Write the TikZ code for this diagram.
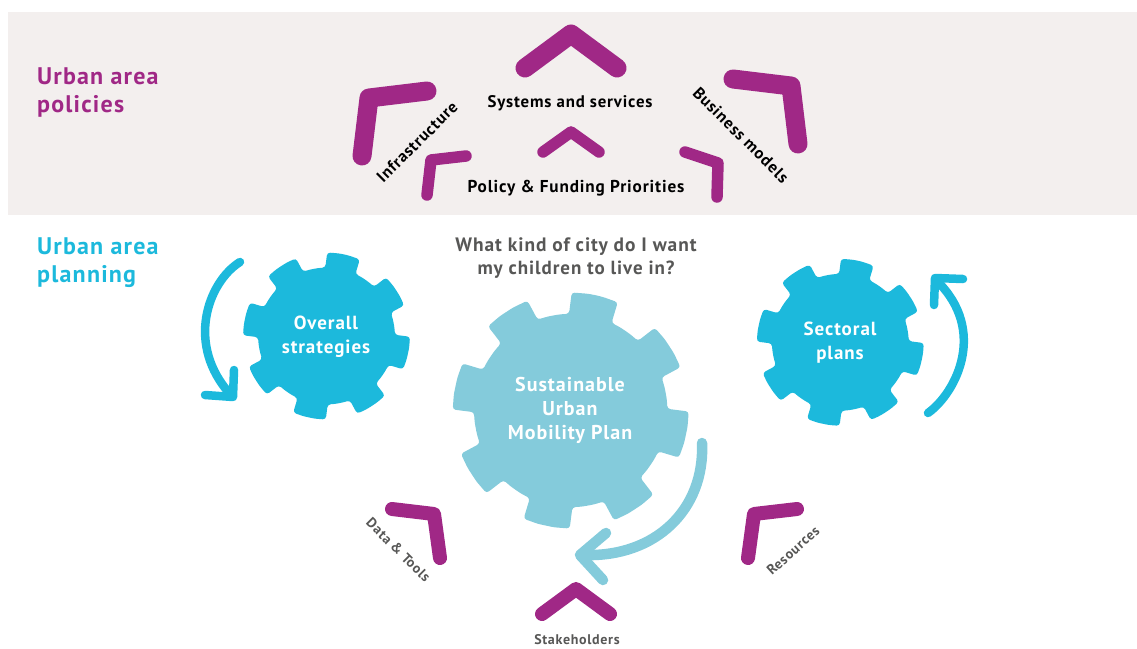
\documentclass[tikz,border=0pt]{standalone}
\usepackage{fontspec}
\setmainfont{PT Sans}[LetterSpace=5]
\definecolor{panelgrey}{HTML}{F3EFEE}
\definecolor{plum}{HTML}{A02886}
\definecolor{cyanblue}{HTML}{1CB9DC}
\definecolor{paleblue}{HTML}{84CBDB}
\definecolor{textgrey}{HTML}{575756}
\tikzset{
  chevron/.style={draw=plum,line cap=round,line join=round,line width=#1},
  swing/.style={draw=#1,line cap=round,line join=round},
  head/.style={font=\fontsize{24}{28}\selectfont\bfseries,align=left,anchor=north west,inner sep=0pt},
  label/.style={font=\fontsize{#1}{#1}\selectfont\bfseries,inner sep=0pt},
  gearlabel/.style={font=\fontsize{#1}{24}\selectfont\bfseries,text=white,align=center,inner sep=0pt},
}
% x y radius colour
\newcommand{\cog}[4]{%
  \fill[#4,rounded corners=3pt,shift={(#1,#2)}] (-78:#3)
    \foreach \t in {-78,-33,...,237} {
      -- ({\t+4}:#3) -- ({\t+11.5}:#3)
      -- ({\t+13}:{.82*#3}) -- ({\t+19}:{.82*#3}) -- ({\t+26}:{.82*#3}) -- ({\t+32}:{.82*#3})
      -- ({\t+33.5}:#3) -- ({\t+41}:#3)
    } -- cycle;
}
\begin{document}
\begin{tikzpicture}[x=1pt,y=-1pt]
\useasboundingbox (0,0) rectangle (1137,648);
\fill[panelgrey] (8,12) rectangle (1137,215);

% side headings
\draw (37,67) node[head,text=plum] (pol) {Urban area\\policies};
\draw (37,237) node[head,text=cyanblue] (pla) {Urban area\\planning};

% policy level
\draw[chevron=19] (525,68) -- (571,34) -- (617,68);
\draw[chevron=19] (362,156) -- (369,98) -- (427,91);
\draw[chevron=19] (733,79) -- (791,86) -- (798,144);
\draw[chevron=11.5] (543,152) -- (571,132) -- (599,152);
\draw[chevron=11.5] (427,195) -- (431,160) -- (466,156);
\draw[chevron=11.5] (685,152) -- (718,163) -- (717,197);
\draw (570,103) node[label=16.8] (sys) {Systems and services};
\draw (576,188) node[label=17.2] (pfp) {Policy \& Funding Priorities};
\draw (417,142) node[label=16.4,rotate=45] (inf) {Infrastructure};
\draw (741,135) node[label=16.5,rotate=-45] (bus) {Business models};

% planning level
\draw (576,246.5) node[label=19.4,text=textgrey] (qa) {What kind of city do I want};
\draw (576,269.5) node[label=19,text=textgrey] (qb) {my children to live in?};

\cog{326.5}{336}{83.5}{cyanblue}
\cog{840.3}{342.3}{83.5}{cyanblue}
\cog{570.7}{410.5}{118}{paleblue}
\draw (326,337) node[gearlabel=19] (ove) {Overall\\strategies};
\draw (840,343) node[gearlabel=19] (sec) {Sectoral\\plans};
\draw (570,410) node[gearlabel=20] (sus) {Sustainable\\Urban\\Mobility Plan};

\draw[swing=cyanblue,line width=8.5] (240,262) .. controls (208,282) and (185,345) .. (231,395);
\draw[swing=cyanblue,line width=8.5] (205,395) -- (233,397) -- (234,370);
\draw[swing=cyanblue,line width=8.5] (928,413) .. controls (957,392) and (987,330) .. (937,281);
\draw[swing=cyanblue,line width=8.5] (934,305) -- (935,278) -- (963,279);
\draw[swing=paleblue,line width=10.5] (702,443) .. controls (705,510) and (655,557) .. (585,555);
\draw[swing=paleblue,line width=10.5] (606,533) -- (580,555) -- (603,580);

% resources
\draw[chevron=14] (392,509) -- (434,514) -- (440,558);
\draw[chevron=14] (797,509) -- (754,514) -- (748,558);
\draw[chevron=14] (542,614) -- (576,589) -- (610,614);
\draw (398.5,550) node[label=14,text=textgrey,rotate=-45] (dat) {Data \& Tools};
\draw (793,550.5) node[label=14,text=textgrey,rotate=42] (res) {Resources};
\draw (577,640) node[label=14,text=textgrey] (sta) {Stakeholders};
\end{tikzpicture}
\end{document}
